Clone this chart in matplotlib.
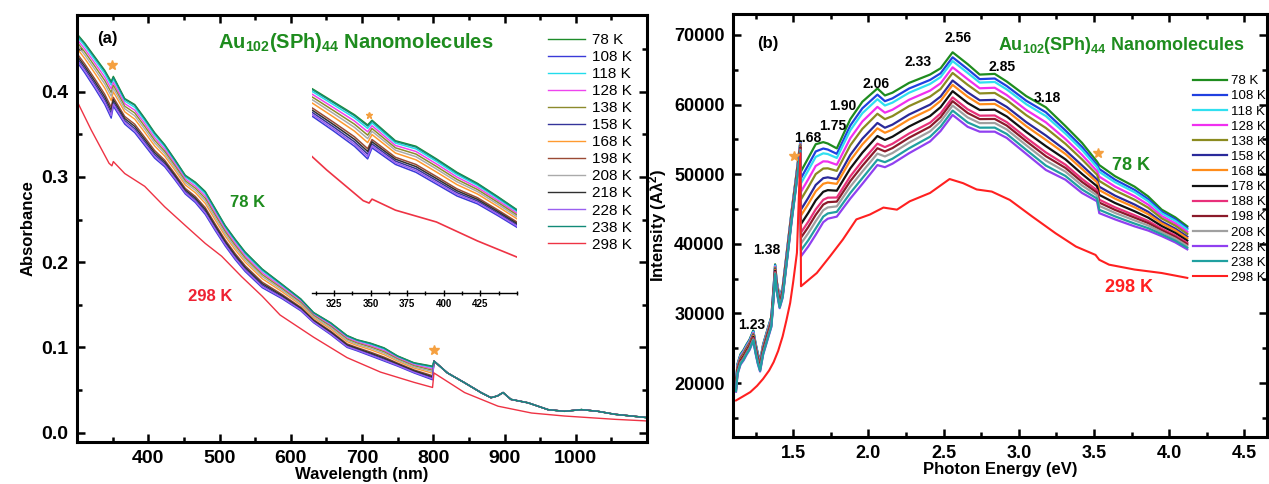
import numpy as np
import matplotlib.pyplot as plt
from matplotlib.ticker import MultipleLocator, FixedLocator

plt.rcParams['font.family'] = ['Liberation Sans', 'DejaVu Sans']
plt.rcParams['mathtext.fontset'] = 'custom'
plt.rcParams['mathtext.default'] = 'bf'
plt.rcParams['mathtext.bf'] = 'Liberation Sans:bold'
plt.rcParams['mathtext.rm'] = 'Liberation Sans:bold'

# ---------------- (a) absorbance ----------------
temps_a = ['78 K', '108 K', '118 K', '128 K', '138 K', '158 K', '168 K',
           '198 K', '208 K', '218 K', '228 K', '238 K']
colors_a = ['#1e8c2a', '#3a3ad8', '#22dcec', '#ee44ee', '#8c8a2c', '#34349a',
            '#ff9a30', '#9a4a34', '#aaaaaa', '#303030', '#9a60f0', '#128a78']
# position of each low-temperature curve inside the bundle (0 = top, 1 = bottom)
rank_a = [0.0, 1.0, 0.10, 0.20, 0.30, 0.86, 0.52, 0.70, 0.40, 0.78, 0.93, 0.03]

wl_vis = np.array([300, 311, 325, 339, 348, 351, 367, 381, 395, 409, 423, 437, 452,
                   466, 480, 494, 508, 522, 536, 560, 588, 614, 632, 656, 679, 693,
                   712, 731, 750, 773, 799])
abs_top = np.array([0.468, 0.457, 0.441, 0.425, 0.412, 0.418, 0.392, 0.385, 0.369,
                    0.352, 0.338, 0.321, 0.302, 0.294, 0.283, 0.263, 0.243, 0.227,
                    0.212, 0.192, 0.174, 0.157, 0.141, 0.129, 0.114, 0.109, 0.105,
                    0.0995, 0.090, 0.082, 0.078])
abs_bottom = np.array([0.435, 0.422, 0.404, 0.385, 0.369, 0.383, 0.362, 0.352, 0.337,
                       0.322, 0.312, 0.297, 0.280, 0.270, 0.256, 0.237, 0.219, 0.203,
                       0.189, 0.170, 0.157, 0.143, 0.129, 0.115, 0.100, 0.096, 0.090,
                       0.084, 0.078, 0.070, 0.062])
wl_nir = np.array([801, 820, 844, 867, 881, 890, 898, 909, 933, 961, 984, 1008,
                   1031, 1055, 1078, 1100])
abs_nir = np.array([0.084, 0.070, 0.0585, 0.047, 0.041, 0.043, 0.047, 0.039, 0.035,
                    0.027, 0.025, 0.027, 0.025, 0.0215, 0.0195, 0.0176])

wl_298 = np.array([300, 320, 345, 349, 351, 367, 395, 423, 452, 480, 503, 531, 560,
                   585, 632, 679, 726, 773, 799, 801, 844, 891, 938, 984, 1055, 1100])
abs_298 = np.array([0.389, 0.355, 0.316, 0.313, 0.318, 0.304, 0.289, 0.265, 0.243,
                    0.222, 0.207, 0.183, 0.160, 0.138, 0.112, 0.088, 0.071, 0.059,
                    0.053, 0.070, 0.047, 0.031, 0.023, 0.0195, 0.0156, 0.0137])

# ---------------- (b) intensity vs photon energy ----------------
temps_b = ['78 K', '108 K', '118 K', '128 K', '138 K', '158 K', '168 K', '178 K',
           '188 K', '198 K', '208 K', '228 K', '238 K']
colors_b = ['#1e8c1e', '#2040e0', '#30e0f0', '#f030f0', '#8b8b20', '#2a2a9a',
            '#ff8c1a', '#111111', '#e8307a', '#8b1a2a', '#a0a0a0', '#9040f0', '#20a0a0']
rank_b = [0.0, 0.08, 0.14, 0.24, 0.33, 0.45, 0.52, 0.62, 0.72, 0.78, 0.85, 1.0, 0.93]

ev_lo = np.array([1.12, 1.13, 1.15, 1.17, 1.19, 1.21, 1.235, 1.25, 1.265, 1.28, 1.30,
                  1.33, 1.355, 1.37, 1.38, 1.39, 1.41, 1.43, 1.46, 1.49, 1.52, 1.548])
int_lo = np.array([19500, 22000, 23400, 24000, 24800, 25500, 26800, 25000, 23500,
                   22400, 24800, 27000, 28800, 33000, 36300, 34000, 31500, 33000,
                   38500, 44000, 49000, 54000])
lo_spread = 1500

ev_hi = np.array([1.552, 1.60, 1.65, 1.70, 1.73, 1.79, 1.88, 1.96, 2.06, 2.11, 2.16,
                  2.27, 2.41, 2.48, 2.56, 2.66, 2.74, 2.84, 2.92, 3.05, 3.18, 3.31,
                  3.42, 3.52, 3.535, 3.64, 3.77, 3.86, 3.95, 4.04, 4.12])
int_top = np.array([50400, 52300, 54300, 54600, 54400, 53700, 57900, 60400, 62300,
                    61300, 61700, 63100, 64300, 65200, 67500, 65800, 64300, 64400,
                    63300, 61200, 59600, 56900, 54500, 51800, 51300, 49700, 48200,
                    46800, 44900, 43800, 42500])
int_bottom = np.array([38200, 39600, 41300, 43100, 43600, 43900, 46500, 48600, 51300,
                       51000, 51500, 53000, 54700, 56200, 58500, 56800, 56100, 56100,
                       55200, 52900, 50600, 49200, 47300, 46100, 44400, 43500, 42500,
                       41900, 41100, 40200, 39200])

ev_298 = np.array([1.12, 1.16, 1.215, 1.26, 1.30, 1.34, 1.37, 1.40, 1.43, 1.455, 1.48,
                   1.50, 1.525, 1.548, 1.552, 1.657, 1.745, 1.83, 1.92, 2.01, 2.10,
                   2.19, 2.275, 2.41, 2.54, 2.63, 2.72, 2.82, 2.94, 3.09, 3.245, 3.38,
                   3.51, 3.535, 3.60, 3.77, 3.95, 4.12])
int_298 = np.array([17500, 18000, 18700, 19600, 20600, 21800, 23000, 24600, 26700,
                    29000, 31500, 34500, 38700, 53000, 33900, 35800, 38200, 40600,
                    43500, 44200, 45200, 44900, 46100, 47300, 49300, 48700, 47800,
                    47500, 46300, 43900, 41500, 39600, 38400, 37700, 37000, 36300,
                    35800, 35100])

peak_labels = ['1.23', '1.38', '1.68', '1.75', '1.90', '2.06', '2.33', '2.56', '2.85', '3.18']
peak_x = [1.226, 1.326, 1.599, 1.765, 1.831, 2.054, 2.328, 2.593, 2.891, 3.189]
peak_y = [28400, 39150, 55220, 56940, 59810, 62970, 66170, 69570, 65450, 60960]

W, H = 1269, 484
fig = plt.figure(figsize=(W / 100, H / 100), dpi=100)
ax1 = fig.add_axes([77 / W, 42 / H, 570 / W, 427 / H])
ax2 = fig.add_axes([733 / W, 47 / H, 534 / W, 423 / H])
axin = fig.add_axes([312 / W, 191 / H, 205 / W, 213 / H])
axin.set_facecolor('none')

star_color = '#f5a040'


def style_axes(ax, xmajor, xmin, ymaj, ymin, size):
    for sp in ax.spines.values():
        sp.set_linewidth(2.2)
    ax.xaxis.set_major_locator(FixedLocator(xmajor))
    ax.xaxis.set_minor_locator(MultipleLocator(xmin))
    ax.yaxis.set_major_locator(MultipleLocator(ymaj))
    ax.yaxis.set_minor_locator(MultipleLocator(ymin))
    ax.tick_params(which='both', direction='in', top=True, right=True, width=1.8)
    ax.tick_params(which='major', length=6, pad=6, labelsize=size)
    ax.tick_params(which='minor', length=3.5)
    for lab in ax.get_xticklabels() + ax.get_yticklabels():
        lab.set_fontweight('bold')


# (a) curves
handles_a = []
for name, col, f in zip(temps_a, colors_a, rank_a):
    y_vis = abs_top + f * (abs_bottom - abs_top)
    x = np.concatenate([wl_vis, wl_nir])
    y = np.concatenate([y_vis, abs_nir])
    h, = ax1.plot(x, y, color=col, lw=1.0, label=name)
    axin.plot(x, y, color=col, lw=1.1)
    handles_a.append(h)
h298, = ax1.plot(wl_298, abs_298, color='#ee3344', lw=1.0, label='298 K')
axin.plot(wl_298, abs_298, color='#ee3344', lw=1.2)
handles_a.append(h298)

ax1.set_xlim(300, 1100)
ax1.set_ylim(-0.011, 0.49)
style_axes(ax1, [400, 500, 600, 700, 800, 900, 1000], 50, 0.1, 0.05, 14)
ax1.set_xlabel('Wavelength (nm)', fontsize=12, fontweight='bold', labelpad=0)
ax1.set_ylabel('Absorbance', fontsize=12, fontweight='bold', labelpad=4)

ax1.plot([349, 801], [0.431, 0.0965], ls='none', marker='*', ms=7, color=star_color)
ax1.text(0.035, 0.935, '(a)', transform=ax1.transAxes, fontsize=12, fontweight='bold')
ax1.text(0.247, 0.935, 'Au$_{102}$(SPh)$_{44}$ Nanomolecules', transform=ax1.transAxes,
         fontsize=14.5, fontweight='bold', color='#1e8c1e', va='center')
ax1.text(539, 0.27, '78 K', fontsize=12, fontweight='bold', color='#1e8c1e', ha='center', va='center')
ax1.text(487, 0.16, '298 K', fontsize=12, fontweight='bold', color='#ee2233', ha='center', va='center')

ax1.legend(handles_a, [h.get_label() for h in handles_a], loc='upper left',
           bbox_to_anchor=(548 / W, 1 - 33 / H), bbox_transform=fig.transFigure,
           frameon=False, fontsize=11, handlelength=2.4, handletextpad=0.45,
           labelspacing=0.2, borderpad=0, borderaxespad=0)

# inset
axin.set_xlim(310, 450)
axin.set_ylim(0.199, 0.469)
for side in ('left', 'right', 'top'):
    axin.spines[side].set_visible(False)
axin.spines['bottom'].set_linewidth(1.0)
axin.set_yticks([])
axin.xaxis.set_major_locator(FixedLocator([325, 350, 375, 400, 425]))
axin.xaxis.set_minor_locator(MultipleLocator(12.5))
axin.tick_params(which='both', direction='inout', width=1.0, labelsize=7, pad=2)
axin.tick_params(which='major', length=5)
axin.tick_params(which='minor', length=3)
for lab in axin.get_xticklabels():
    lab.set_fontweight('bold')
axin.plot([349], [0.425], ls='none', marker='*', ms=5, color=star_color)

# (b) curves
handles_b = []
for name, col, f in zip(temps_b, colors_b, rank_b):
    y_lo = int_lo + (0.5 - f) * lo_spread
    y_hi = int_top + f * (int_bottom - int_top)
    h, = ax2.plot(np.concatenate([ev_lo, ev_hi]), np.concatenate([y_lo, y_hi]),
                  color=col, lw=1.6, label=name)
    handles_b.append(h)
h298b, = ax2.plot(ev_298, int_298, color='#ff2020', lw=1.5, label='298 K')
handles_b.append(h298b)

ax2.set_xlim(1.1, 4.65)
ax2.set_ylim(12250, 73000)
style_axes(ax2, [1.5, 2.0, 2.5, 3.0, 3.5, 4.0, 4.5], 0.25, 10000, 5000, 13)
ax2.set_xlabel('Photon Energy (eV)', fontsize=12, fontweight='bold', labelpad=0)
ax2.set_ylabel('Intensity (Aλ$^2$)', fontsize=12, fontweight='bold', labelpad=4)

ax2.plot([1.507, 3.526], [52640, 53070], ls='none', marker='*', ms=7, color=star_color)
for lab, x, y in zip(peak_labels, peak_x, peak_y):
    ax2.text(x, y, lab, fontsize=10, fontweight='bold', ha='center', va='center')
ax2.text(0.045, 0.92, '(b)', transform=ax2.transAxes, fontsize=12, fontweight='bold')
ax2.text(0.958, 0.925, 'Au$_{102}$(SPh)$_{44}$ Nanomolecules', transform=ax2.transAxes,
         fontsize=13, fontweight='bold', color='#1e8c1e', va='center', ha='right')
ax2.text(3.745, 51200, '78 K', fontsize=13, fontweight='bold', color='#1e8c1e', ha='center', va='center')
ax2.text(3.73, 33700, '298 K', fontsize=13, fontweight='bold', color='#ff2020', ha='center', va='center')

leg = ax2.legend(handles_b, [h.get_label() for h in handles_b], loc='upper left',
                 bbox_to_anchor=(1193 / W, 1 - 75 / H), bbox_transform=fig.transFigure,
                 frameon=False, fontsize=9.5, handlelength=2.6, handletextpad=0.25,
                 labelspacing=0.22, borderpad=0, borderaxespad=0)
leg.set_zorder(5)

fig.savefig('out.png', dpi=100)
